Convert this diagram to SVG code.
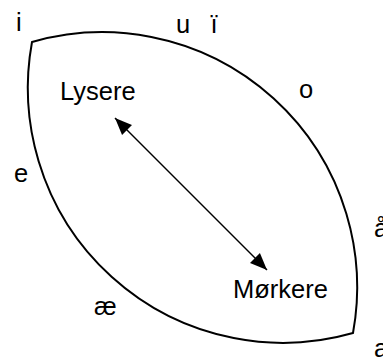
<svg xmlns="http://www.w3.org/2000/svg" width="383" height="359" viewBox="0 0 383 359">
<style>
text{font-family:"Liberation Sans",Arial,sans-serif;font-size:25.5px;fill:#000}
.lens{fill:none;stroke:#000;stroke-width:2;stroke-linejoin:miter}
.arr{fill:none;stroke:#000;stroke-width:1.5}
</style>
<defs>
<marker id="ah" markerUnits="userSpaceOnUse" markerWidth="20" markerHeight="16" refX="17" refY="7" orient="auto-start-reverse" viewBox="0 0 20 14">
<path d="M0,0 L17,7 L0,14 Z" fill="#000"/>
</marker>
</defs>
<g id="lens">
<path class="lens" d="M32,42 A255,255 0 0 0 353,333 A255,255 0 0 0 32,42 Z"/>
</g>
<g id="connectors">
<path class="arr" d="M115,118 L267,270" marker-start="url(#ah)" marker-end="url(#ah)"/>
</g>
<g id="lysere"><text x="60" y="100">Lysere</text></g>
<g id="morkere"><text x="233" y="298">Mørkere</text></g>
<g id="vowels">
<text x="16" y="31">i</text>
<text x="176" y="33">u</text>
<text x="210.5" y="33">ï</text>
<text x="299" y="98">o</text>
<text x="14" y="182">e</text>
<text x="94" y="315">æ</text>
<text x="374" y="237">å</text>
<text x="374" y="357">a</text>
</g>
</svg>
